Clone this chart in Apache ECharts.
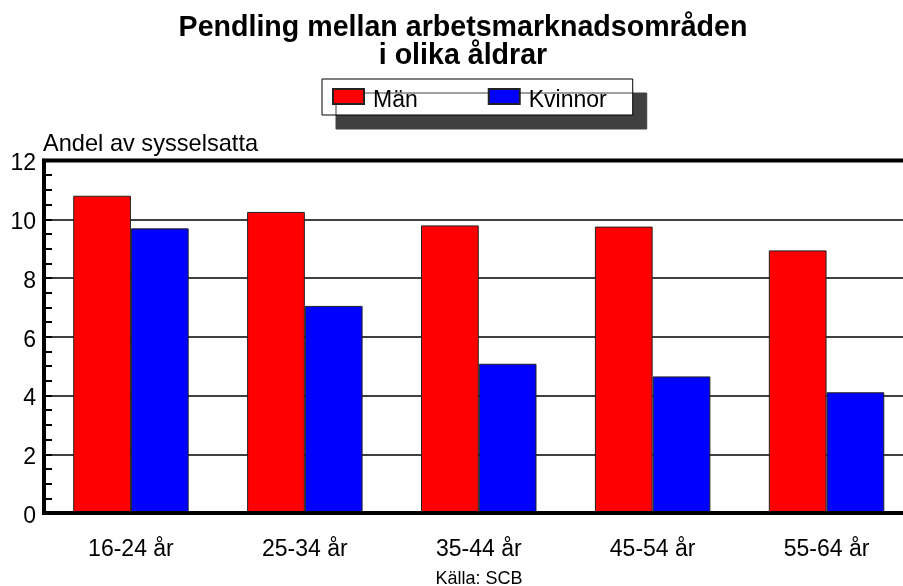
<!DOCTYPE html>
<html>
<head>
<meta charset="utf-8">
<script src="https://cdn.jsdelivr.net/npm/echarts@6/dist/echarts.min.js"></script>
<style>
  html, body { margin: 0; padding: 0; background: #fff; overflow: hidden; }
  /* a little wider than the window: the plot area runs past the right edge */
  #chart { width: 914px; height: 586px; }
</style>
</head>
<body>
<div id="chart"></div>
<script>
// data
const categories = ['16-24 år', '25-34 år', '35-44 år', '45-54 år', '55-64 år']
const manValues = [10.8, 10.25, 9.79, 9.75, 8.94]
const kvinnorValues = [9.69, 7.05, 5.08, 4.65, 4.11]
const yTicks = [0, 2, 4, 6, 8, 10, 12]

const FONT = '"Liberation Sans", Arial, sans-serif'

const myChart = echarts.init(document.getElementById('chart'))

const option = {
  backgroundColor: '#fff',
  animation: false,
  textStyle: { fontFamily: FONT, color: '#000' },
  title: [{
    text: 'Pendling mellan arbetsmarknadsområden\ni olika åldrar',
    left: 463,
    top: 14,
    padding: 0,
    textAlign: 'center',
    textStyle: { fontFamily: FONT, fontSize: 28.6, fontWeight: 'bold', lineHeight: 28, color: '#000' }
  }, {
    text: 'Källa: SCB',
    left: 479,
    top: 570,
    padding: 0,
    textAlign: 'center',
    textStyle: { fontFamily: FONT, fontSize: 18, fontWeight: 'normal', lineHeight: 18, color: '#000' }
  }],
  legend: {
    left: 322,
    top: 79,
    padding: [2, 26, 3, 10],
    itemWidth: 31,
    itemHeight: 15,
    itemGap: 70,
    icon: 'rect',
    backgroundColor: '#fff',
    borderColor: '#000',
    borderWidth: 1,
    shadowColor: '#404040',
    shadowBlur: 0,
    shadowOffsetX: 14,
    shadowOffsetY: 14,
    formatter: '{t|{name}}',
    textStyle: {
      fontFamily: FONT, fontSize: 23, color: '#000',
      rich: { t: { fontFamily: FONT, fontSize: 23, lineHeight: 23, color: '#000', padding: [8, 0, 0, 4] } }
    },
    data: ['Män', 'Kvinnor']
  },
  grid: {
    left: 44,
    top: 160.5,
    bottom: 73,
    width: 869.5,
    show: true,
    borderColor: '#000',
    borderWidth: 4,
    containLabel: false
  },
  xAxis: {
    type: 'category',
    data: categories,
    z: 10,
    axisLine: { show: true, lineStyle: { color: '#000', width: 4 } },
    axisTick: { show: false },
    axisLabel: { margin: 25, fontFamily: FONT, fontSize: 23, color: '#000' },
    splitLine: { show: false }
  },
  yAxis: {
    type: 'value',
    min: yTicks[0],
    max: yTicks[yTicks.length - 1],
    interval: 2,
    name: 'Andel av sysselsatta',
    nameLocation: 'end',
    nameGap: 16,
    nameTextStyle: { fontFamily: FONT, fontSize: 23.6, color: '#000', align: 'left', verticalAlign: 'middle', padding: [0, 0, 0, -1] },
    axisLine: { show: true, lineStyle: { color: '#000', width: 4 } },
    axisTick: { show: true, inside: true, length: 8, lineStyle: { color: '#000', width: 2 } },
    minorTick: { show: true, splitNumber: 4, length: 8, lineStyle: { color: '#000', width: 2 } },
    axisLabel: {
      margin: 8,
      formatter: '{v|{value}}',
      rich: { v: { fontFamily: FONT, fontSize: 23, lineHeight: 23, color: '#000', padding: [7, 0, 0, 0] } }
    },
    splitLine: { show: true, lineStyle: { color: '#000', width: 1.5 } }
  },
  series: [{
    name: 'Män',
    type: 'bar',
    data: manValues,
    barGap: '0%',
    barCategoryGap: '33.6%',
    itemStyle: { color: '#ff0000', borderColor: '#222', borderWidth: 1 }
  }, {
    name: 'Kvinnor',
    type: 'bar',
    data: kvinnorValues,
    barGap: '0%',
    barCategoryGap: '33.6%',
    itemStyle: { color: '#0000ff', borderColor: '#222', borderWidth: 1 }
  }]
}

option && myChart.setOption(option)
</script>
</body>
</html>
